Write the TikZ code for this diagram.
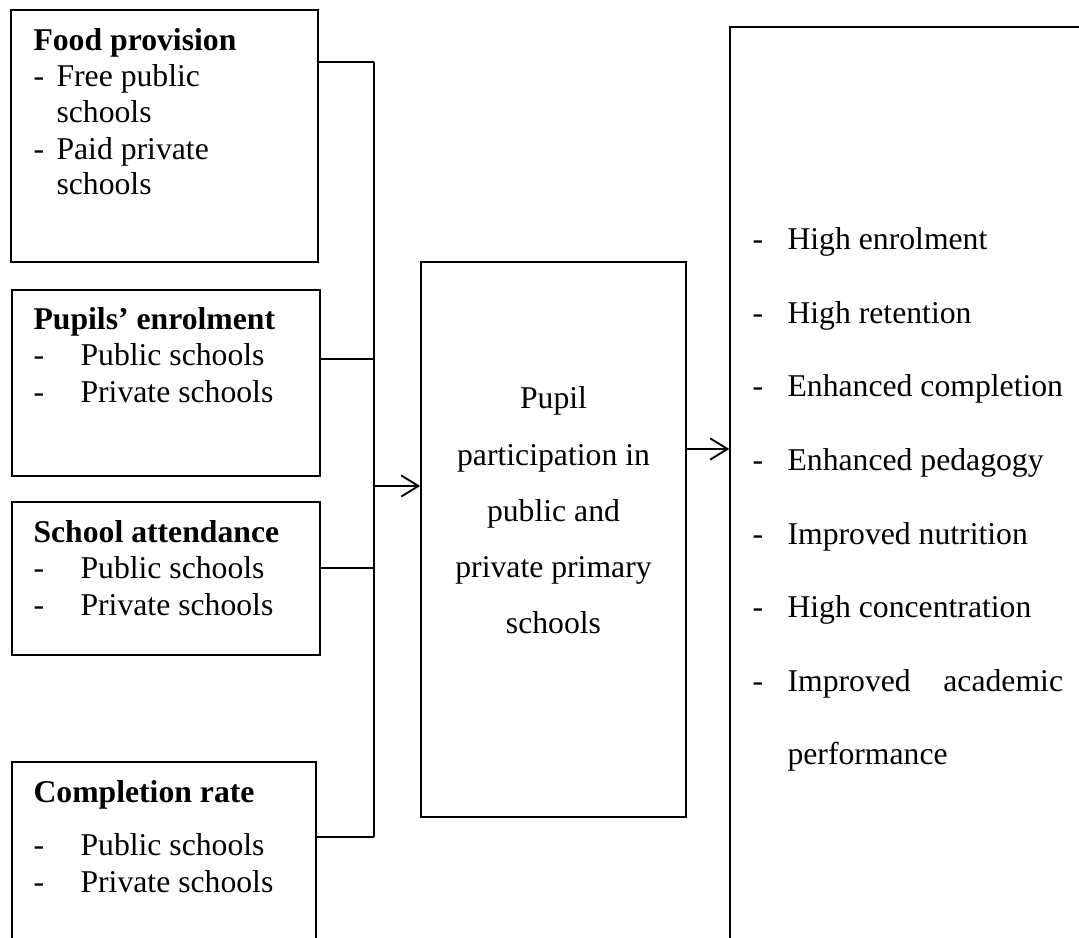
\documentclass[tikz,border=0pt]{standalone}
\usepackage{fontspec}
\setmainfont{Liberation Serif}
\usetikzlibrary{fit}
\usetikzlibrary{arrows.meta}

\begin{document}
\begin{tikzpicture}[
      x=0.0133cm, y=-0.0133cm,
      box_line/.style={draw, line width=0.6pt, inner sep=0pt},
      link_line/.style={line width=0.6pt},
      arrow_line/.style={line width=0.7pt, -{Straight Barb[length=6.5pt,width=8pt]}},
      item_text/.style={anchor=base west, inner sep=0pt, font=\fontsize{12}{14}\selectfont},
      head_text/.style={anchor=base west, inner sep=0pt, font=\fontsize{12}{14}\selectfont\bfseries},
      mid_text/.style={anchor=base, inner sep=0pt, font=\fontsize{12}{14}\selectfont}
    ]

    % ------------------------------------------------------------------ %
    % Page frame
    % ------------------------------------------------------------------ %

    \useasboundingbox (0,0) rectangle (1079,938);
    \clip (0,0) rectangle (1079,938);

    % ------------------------------------------------------------------ %
    % Draw the boxes
    % ------------------------------------------------------------------ %

    \node[box_line, fit={(11,10) (318,262)}] (food) {};
    \node[box_line, fit={(12,290) (320,476)}] (enrol) {};
    \node[box_line, fit={(12,502) (320,655)}] (attend) {};
    \node[box_line, fit={(12,762) (316,970)}] (complete) {};
    \node[box_line, fit={(421,262) (686,817)}] (particip) {};
    \node[box_line, fit={(730,27) (1110,970)}] (outcome) {};

    % ------------------------------------------------------------------ %
    % Connectors
    % ------------------------------------------------------------------ %

    % junctions on the collecting line
    \coordinate (j_food) at (374,62);
    \coordinate (j_enrol) at (374,359);
    \coordinate (j_attend) at (374,568);
    \coordinate (j_complete) at (374,837);
    \coordinate (j_in) at (374,486);
    \coordinate (j_out) at (700,449);

    \draw[link_line] (food.east |- j_food) -- (j_food) ;
    \draw[link_line] (enrol.east |- j_enrol) -- (j_enrol) ;
    \draw[link_line] (attend.east |- j_attend) -- (j_attend) ;
    \draw[link_line] (complete.east |- j_complete) -- (j_complete) ;
    \draw[link_line] (j_food) -- (j_complete) ;

    % arrows into and out of the middle box
    \draw[arrow_line] (j_in) -- (particip.west |- j_in) ;
    \draw[arrow_line] (particip.east |- j_out) -- (outcome.west |- j_out) ;

    % ------------------------------------------------------------------ %
    % Annotations
    % ------------------------------------------------------------------ %

    % food provision
    \node[head_text] (food_h) at (33,51) {Food provision} ;
    \node[item_text] (food_d1) at (33,87) {-} ;
    \node[item_text] (food_t1) at (56,87) {Free public} ;
    \node[item_text] (food_t2) at (56,123) {schools} ;
    \node[item_text] (food_d2) at (33,160) {-} ;
    \node[item_text] (food_t3) at (56,160) {Paid private} ;
    \node[item_text] (food_t4) at (56,195) {schools} ;

    % enrolment, attendance, completion
    \node[head_text] (enrol_h) at (33,330) {Pupils’ enrolment} ;
    \node[head_text] (attend_h) at (33,543) {School attendance} ;
    \node[head_text] (complete_h) at (33,802) {Completion rate} ;
    \foreach \nm/\yy in {enrol/366, attend/578, complete/855} {
      \node[item_text] (\nm_d1) at (33,\yy) {-} ;
      \node[item_text] (\nm_t1) at (80,\yy) {Public schools} ;
      \node[item_text] (\nm_d2) at (33,\yy+37) {-} ;
      \node[item_text] (\nm_t2) at (80,\yy+37) {Private schools} ;
    }

    % middle box
    \foreach \txt [count=\i] in {Pupil, participation in, public and, private primary, schools}
      \node[mid_text] (mid_\i) at (553.5,{409+56*(\i-1)}) {\txt} ;

    % outcomes
    \foreach \txt [count=\i] in {High enrolment, High retention, Enhanced completion, Enhanced pedagogy, Improved nutrition, High concentration} {
      \node[item_text] (out_d\i) at (752,{250+73.5*(\i-1)}) {-} ;
      \node[item_text] (out_t\i) at (787,{250+73.5*(\i-1)}) {\txt} ;
    }
    \node[item_text] (out_d7) at (752,691) {-} ;
    \node[item_text] (out_t7) at (787,691) {\hbox to 104.3pt{Improved\hfill academic}} ;
    \node[item_text] (out_t8) at (787,764.5) {performance} ;

\end{tikzpicture}
\end{document}
